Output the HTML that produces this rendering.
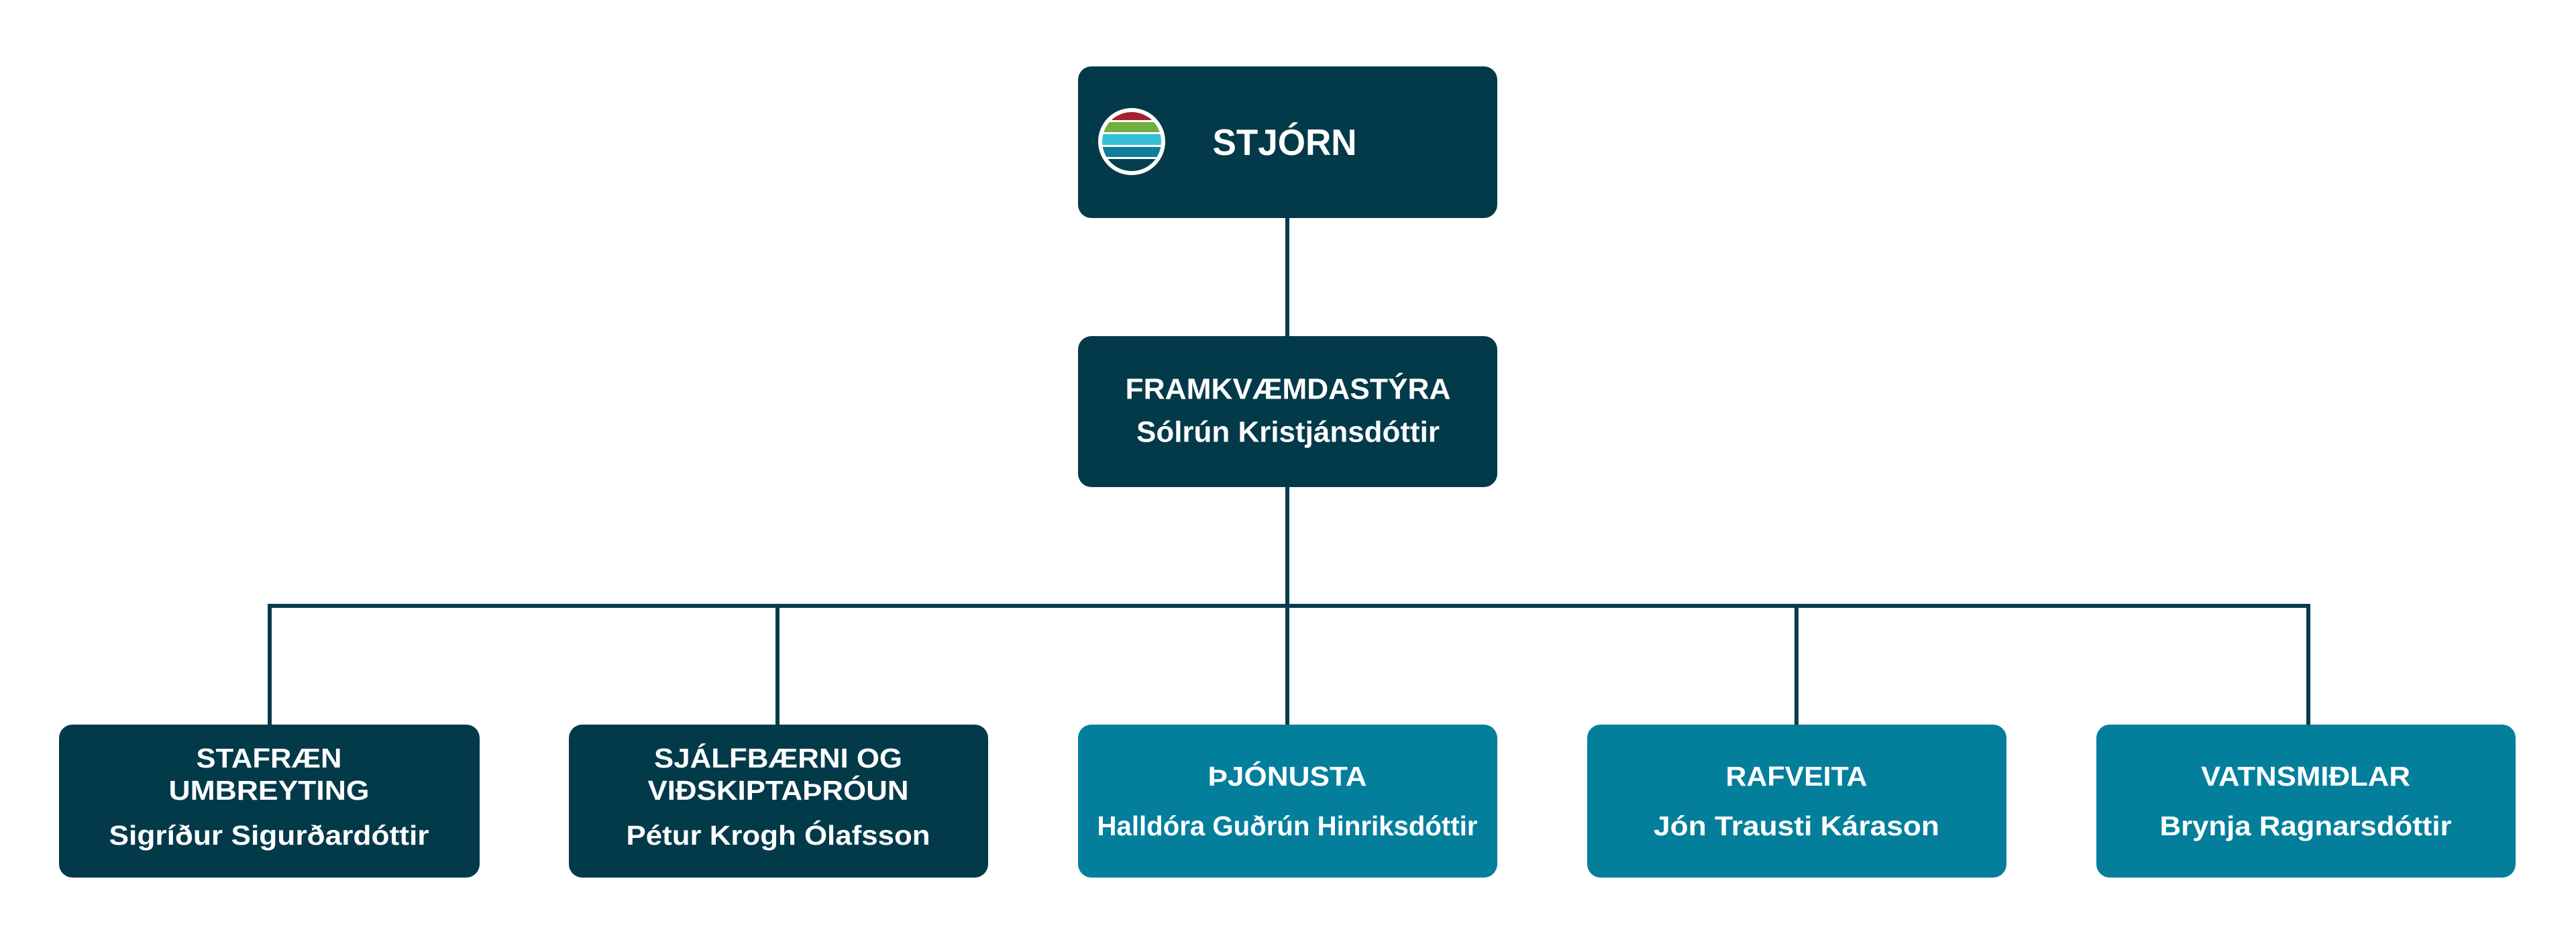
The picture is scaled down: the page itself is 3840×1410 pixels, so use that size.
<!DOCTYPE html>
<html><head><meta charset="utf-8"><style>
html,body{margin:0;padding:0;background:#fff;}
svg{display:block;}
text{font-family:"Liberation Sans",Arial,sans-serif;font-weight:bold;fill:#fff;text-anchor:middle;dominant-baseline:central;}
</style></head><body>
<svg width="3840" height="1410" viewBox="0 0 3840 1410" xmlns="http://www.w3.org/2000/svg">
<g stroke="#083c4c" stroke-width="6" fill="none">
<line x1="1919" y1="320" x2="1919" y2="505"/>
<line x1="1919" y1="720" x2="1919" y2="1083"/>
<line x1="399" y1="903" x2="3444" y2="903"/>
<line x1="402" y1="903" x2="402" y2="1083"/>
<line x1="1159" y1="903" x2="1159" y2="1083"/>
<line x1="2678" y1="903" x2="2678" y2="1083"/>
<line x1="3441" y1="903" x2="3441" y2="1083"/>
</g>
<rect x="1607" y="99" width="625" height="226" rx="20" fill="#033a4a"/>
<rect x="1607" y="501" width="625" height="225" rx="20" fill="#033a4a"/>
<rect x="88" y="1080" width="627" height="228" rx="20" fill="#033a4a"/>
<rect x="848" y="1080" width="625" height="228" rx="20" fill="#033a4a"/>
<rect x="1607" y="1080" width="625" height="228" rx="20" fill="#037f9c"/>
<rect x="2366" y="1080" width="625" height="228" rx="20" fill="#037f9c"/>
<rect x="3125" y="1080" width="625" height="228" rx="20" fill="#037f9c"/>
<defs><clipPath id="c"><circle cx="1687" cy="211" r="44"/></clipPath></defs>
<circle cx="1687" cy="211" r="50" fill="#fff"/>
<g clip-path="url(#c)">
<rect x="1640" y="160" width="95" height="19" fill="#a3222e"/>
<rect x="1640" y="182" width="95" height="15" fill="#6fae3f"/>
<rect x="1640" y="200" width="95" height="16" fill="#36bfd6"/>
<rect x="1640" y="219" width="95" height="15" fill="#0e7e9a"/>
<rect x="1640" y="237" width="95" height="20" fill="#063e4e"/>
</g>
<text x="1915" y="212" font-size="55" textLength="215" lengthAdjust="spacingAndGlyphs">STJÓRN</text>
<text x="1920" y="580" font-size="44" textLength="485" lengthAdjust="spacingAndGlyphs">FRAMKVÆMDASTÝRA</text>
<text x="1920" y="644" font-size="44" textLength="452" lengthAdjust="spacingAndGlyphs">Sólrún Kristjánsdóttir</text>
<text x="401" y="1130" font-size="41" textLength="217" lengthAdjust="spacingAndGlyphs">STAFRÆN</text>
<text x="401" y="1178" font-size="41" textLength="299" lengthAdjust="spacingAndGlyphs">UMBREYTING</text>
<text x="401" y="1245" font-size="41" textLength="477" lengthAdjust="spacingAndGlyphs">Sigríður Sigurðardóttir</text>
<text x="1160" y="1130" font-size="41" textLength="370" lengthAdjust="spacingAndGlyphs">SJÁLFBÆRNI OG</text>
<text x="1160" y="1178" font-size="41" textLength="389" lengthAdjust="spacingAndGlyphs">VIÐSKIPTAÞRÓUN</text>
<text x="1160" y="1245" font-size="41" textLength="453" lengthAdjust="spacingAndGlyphs">Pétur Krogh Ólafsson</text>
<text x="1919" y="1157" font-size="41" textLength="237" lengthAdjust="spacingAndGlyphs">ÞJÓNUSTA</text>
<text x="1919" y="1231" font-size="41" textLength="567" lengthAdjust="spacingAndGlyphs">Halldóra Guðrún Hinriksdóttir</text>
<text x="2678" y="1157" font-size="41" textLength="211" lengthAdjust="spacingAndGlyphs">RAFVEITA</text>
<text x="2678" y="1231" font-size="41" textLength="426" lengthAdjust="spacingAndGlyphs">Jón Trausti Kárason</text>
<text x="3437" y="1157" font-size="41" textLength="312" lengthAdjust="spacingAndGlyphs">VATNSMIÐLAR</text>
<text x="3437" y="1231" font-size="41" textLength="435" lengthAdjust="spacingAndGlyphs">Brynja Ragnarsdóttir</text>
</svg>
</body></html>
